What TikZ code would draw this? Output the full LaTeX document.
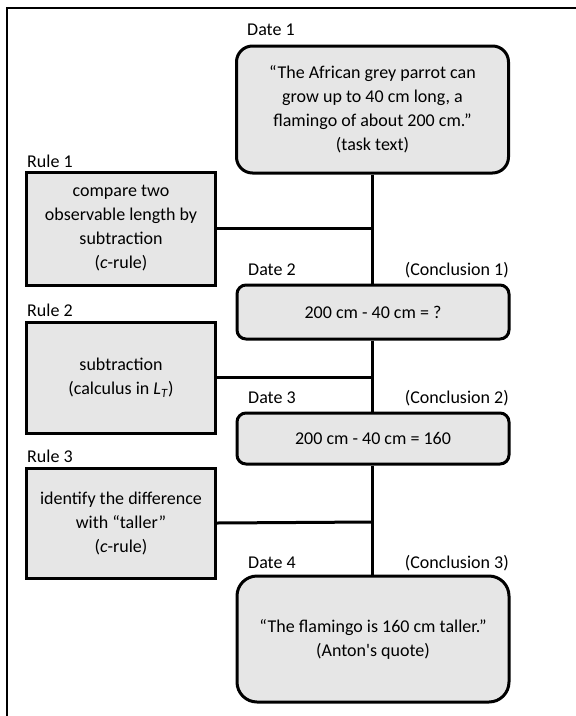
\documentclass[tikz,border=0pt]{standalone}
\usepackage{fontspec}
\setmainfont{Carlito}[Ligatures=TeXOff]
\definecolor{boxgray}{HTML}{E6E6E6}
\begin{document}
\begin{tikzpicture}[x=1pt,y=-1pt,
  every node/.style={font=\fontsize{18}{24}\selectfont, inner sep=0pt},
  datebox/.style={draw, line width=3pt, fill=boxgray, rounded corners=#1, align=center, minimum width=272pt},
  rulebox/.style={draw, line width=3pt, fill=boxgray, align=center, minimum width=189pt},
  link/.style={line width=3pt},
  lbl/.style={anchor=west},
  concl/.style={anchor=east}]
\useasboundingbox (0,0) rectangle (576,716);
\draw[line width=1.2pt] (7,716) -- (7,8) -- (576,8);

\node[datebox=16pt, minimum height=127pt] (d1) at (372.5,109.5)
  {“The African grey parrot can\\grow up to 40 cm long, a\\flamingo of about 200 cm.”\\(task text)};
\node[datebox=9pt, minimum height=54pt] (d2) at (373,312) {200 cm - 40 cm = ?};
\node[datebox=9pt, minimum height=51pt] (d3) at (373,438.5) {200 cm - 40 cm = 160};
\node[datebox=20pt, minimum height=126pt] (d4) at (373,639)
  {“The flamingo is 160 cm taller.”\\(Anton's quote)};

\node[rulebox, minimum height=113pt] (r1) at (121,228.5)
  {compare two\\observable length by\\subtraction\\(\textit{c}-rule)};
\node[rulebox, minimum height=111pt] (r2) at (121,377.5)
  {subtraction\\(calculus in \textit{L}\textsubscript{\textit{T}})};
\node[rulebox, minimum height=110pt] (r3) at (121,523)
  {identify the difference\\with “taller”\\(\textit{c}-rule)};

\node[lbl] (l1) at (247,30) {Date 1};
\node[lbl] (l2) at (248,270) {Date 2};
\node[lbl] (l3) at (248,398) {Date 3};
\node[lbl] (l4) at (248,563) {Date 4};
\node[concl] (c1) at (509,270) {(Conclusion 1)};
\node[concl] (c2) at (509,398) {(Conclusion 2)};
\node[concl] (c3) at (509,563) {(Conclusion 3)};
\node[lbl] (q1) at (27,161) {Rule 1};
\node[lbl] (q2) at (27,310) {Rule 2};
\node[lbl] (q3) at (27,456) {Rule 3};

\coordinate (j1) at (372,228.5);
\coordinate (j2) at (372,377.5);
\coordinate (j3) at (372,522);

\draw[link] (d1.south -| j1) -- (d2.north -| j1);
\draw[link] (d2.south -| j1) -- (d3.north -| j1);
\draw[link] (d3.south -| j1) -- (d4.north -| j1);
\draw[link] (r1.east) -- (j1);
\draw[link] (r2.east) -- (j2);
\draw[link] (r3.east) -- (j3);
\end{tikzpicture}
\end{document}
